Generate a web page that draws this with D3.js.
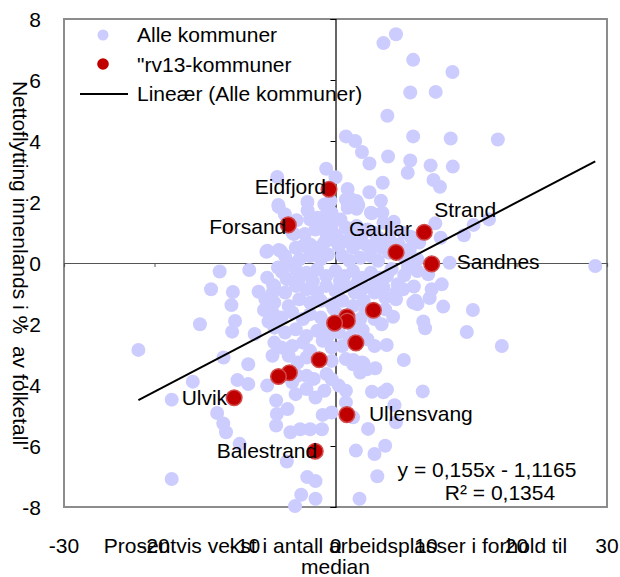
<!DOCTYPE html>
<html>
<head>
<meta charset="utf-8">
<script src="https://cdn.jsdelivr.net/npm/d3@7"></script>
<style>
  body { margin: 0; background: #fff; }
  text { font-family: "Liberation Sans", Arial, sans-serif; fill: #000; }
</style>
</head>
<body>
<svg id="chart" width="620" height="577"></svg>
<script>
// Axis ticks
const xTicks = [-30, -20, -10, 0, 10, 20, 30];
const yTicks = [-8, -6, -4, -2, 0, 2, 4, 6, 8];

// All municipalities: [job growth vs median (%), net domestic migration (% of population)]
const alleKommuner = [
  [6.68,7.50],[5.30,7.21],[8.58,6.66],[12.92,6.26],[8.26,5.59],[11.07,5.61],[5.73,4.83],[1.15,4.15],
  [2.17,4.00],[8.58,4.15],[12.73,4.08],[17.94,4.05],[2.92,3.64],[5.81,3.49],[3.75,3.26],[8.26,3.36],
  [10.51,3.20],[12.96,3.16],[7.98,2.96],[-1.03,3.09],[0,2.81],[-6.44,2.82],[10.83,2.72],[11.54,2.50],
  [5.22,2.63],[1.34,2.43],[3.75,2.32],[5.02,2.04],[1.6,2.12],[2.52,1.90],[4.0,1.63],[6.44,1.35],[8.3,0.86],
  [-6.32,1.90],[-6.28,1.84],[-3.1,2.0],[-3.08,1.72],[-1.23,1.92],[-0.55,2.03],[1.15,2.08],[2.33,2.03],
  [1.34,1.81],[2.33,1.78],[3.91,1.65],[5.18,1.65],[-0.43,1.65],[-2.02,1.48],[-1.03,1.59],[11.03,1.30],
  [15.26,1.25],[16.96,1.43],[14.19,0.91],[11.62,0.83],[-5.6,1.6],[-4.6,0.95],[-4.3,1.4],
  [-4.78,0.99],[-2.81,1.43],[-2.21,1.10],[-1.42,1.32],[-0.43,1.21],[0.55,1.43],[1.15,1.16],[2.33,1.21],
  [3.52,1.10],[4.31,0.99],[5.30,1.32],[6.48,1.10],[7.47,0.99],[8.46,0.83],[9.25,0.67],[-7.63,0.37],
  [-6.05,0.39],[-5.57,0.23],[-4.39,0.50],[-3.60,0.56],[-2.81,0.61],[-2.02,0.50],[-1.23,0.67],[-0.43,0.77],
  [0.36,0.56],[1.15,0.72],[1.94,0.50],[2.73,0.67],[3.52,0.56],[4.31,0.61],[5.10,0.50],[5.89,0.34],
  [7.47,0.23],[9.05,0.12],[12.6,0.01],[28.7,-0.10],[-5.18,0.01],[-3.99,0.12],[-2.81,0.23],[-1.62,0.12],
  [-0.83,0.28],[0.75,0.23],[1.54,0.07],[2.73,0.17],[3.91,0.23],[4.70,0.07],[-7.53,0.40],[-6.26,0.43],
  [-3.4,0.95],[-1.0,0.95],[0.1,0.9],[1.8,0.9],[2.9,0.9],[4.9,0.8],[6.0,0.75],[7.0,0.6],[8.2,0.45],
  [-12.8,-0.28],[-9.53,-0.23],[-13.75,-0.86],[-11.34,-0.95],[-8.50,-0.94],[-7.55,-0.48],[-6.36,-0.15],
  [-5.38,-0.53],[-4.39,-0.21],[-3.20,-0.32],[-2.02,-0.21],[-1.03,-0.43],[0,-0.26],[0.95,-0.43],[1.94,-0.26],
  [2.92,-0.48],[3.91,-0.32],[4.90,-0.48],[5.69,-0.43],[6.88,-0.70],[9.05,-0.26],[10.24,-0.37],[11.74,-0.70],
  [10.63,-0.86],[8.66,-0.77],[8.85,-1.24],[6.68,-0.97],[7.47,-0.86],[-6.76,-0.75],[-5.57,-0.97],[-4.39,-0.75],
  [-3.20,-0.86],[-2.02,-0.97],[-1.03,-0.75],[0,-0.92],[1.15,-0.75],[2.13,-0.97],[3.12,-0.81],[4.31,-0.97],
  [5.49,-1.13],[6.68,-1.19],[9.05,-1.35],[11.9,-1.43],[15.18,-1.54],[-11.5,-1.38],[-7.75,-1.19],[-6.76,-1.30],
  [-5.18,-1.41],[-3.99,-1.19],[-2.81,-1.30],[-1.62,-1.24],[-0.43,-1.35],[0.75,-1.24],[1.94,-1.41],[3.12,-1.24],
  [5.49,-1.52],[-6.9,-0.72],[-7.0,-1.0],[-7.9,-1.54],[8.6,-1.3],[10.4,-1.15],[-4.0,-0.5],[-2.5,-0.6],
  [0.5,-0.6],[2.4,-0.65],[4.4,-0.65],[7.6,-0.4],[6.2,-0.2],[8.0,-0.1],[5.3,-0.8],[-5.9,-0.3],
  [-14.98,-2.01],[-11.1,-1.90],[-11.42,-2.25],[-8.93,-2.33],[-7.4,-1.92],[-6.96,-1.62],[-5.97,-1.79],
  [-4.78,-1.62],[-3.60,-1.84],[-2.81,-1.68],[-1.62,-1.79],[-1.03,-2.01],[2.73,-1.84],[4.31,-1.84],
  [5.10,-2.01],[6.36,-1.76],[9.7,-1.92],[9.9,-2.14],[14.51,-2.26],[18.38,-2.72],[-21.78,-2.85],
  [-6.76,-2.12],[-5.57,-2.28],[-4.39,-2.17],[-3.20,-2.39],[-2.02,-2.22],[-0.83,-2.39],[0.36,-2.28],
  [1.54,-2.44],[3.52,-2.50],[4.31,-2.72],[5.66,-2.69],[-6.76,-2.61],[-5.97,-2.77],[-4.78,-2.72],
  [-3.60,-2.61],[-2.81,-2.88],[-1.42,-2.55],[-0.43,-2.77],[0.75,-2.72],[-12.37,-3.10],[-9.64,-3.32],
  [-6.96,-3.04],[-5.18,-3.04],[-4.19,-3.26],[-3.20,-3.10],[-0.43,-3.21],[1.15,-3.15],[1.97,-3.18],
  [2.92,-3.26],[4.4,-3.45],[7.55,-3.18],[3.1,-3.29],[0.3,-1.7],[3.3,-1.6],[-0.2,-1.5],[2.0,-2.1],[3.0,-2.2],
  [-15.77,-3.89],[-18.1,-4.48],[-10.83,-3.84],[-9.64,-3.97],[-13.08,-4.92],[-12.4,-5.26],[-12.1,-5.55],
  [-7.55,-4.02],[-6.56,-4.51],[-6.48,-4.95],[-5.30,-4.79],[-6.56,-5.33],[-4.78,-3.91],[-3.20,-3.70],
  [-3.20,-4.13],[-2.21,-4.41],[-0.99,-3.64],[-0.43,-3.81],[0.36,-4.02],[-1.23,-4.19],[1.15,-4.19],
  [1.15,-4.57],[1.94,-3.32],[2.73,-3.59],[3.52,-3.48],[4.03,-4.22],[5.30,-4.24],[5.69,-4.15],[9.64,-4.21],
  [6.52,-4.66],[6.68,-5.22],[-1.42,-4.98],[-0.43,-4.90],[1.94,-5.06],[3.60,-5.44],[-4.98,-5.55],
  [-3.9,-5.45],[-2.8,-5.45],[-1.5,-5.45],[-4.4,-4.3],[-2.4,-3.8],[-4.2,-3.7],
  [-5.38,-6.51],[2.25,-6.15],[4.31,-6.26],[5.49,-5.99],[-18.1,-7.08],[4.62,-6.99],[-3.12,-7.02],
  [-2.21,-7.15],[-3.79,-7.60],[-2.21,-7.73],[-4.47,-7.97],[2.65,-7.73],[-10.6,-5.93]
];

// Municipalities along rv13
const rv13Names = ["Eidfjord", "Forsand", "Strand", "Gaular", "Sandnes", "", "", "", "", "", "", "", "", "Ulvik", "Ullensvang", "Balestrand"];
const rv13X = [-0.72, -5.22, 9.81, 6.69, 10.63, 4.19, 1.26, 1.30, -0.10, 2.25, -1.80, -5.10, -6.30, -11.20, 1.26, -2.24];
const rv13Y = [2.42, 1.25, 1.01, 0.35, -0.03, -1.55, -1.76, -1.90, -1.97, -2.62, -3.17, -3.60, -3.72, -4.42, -4.97, -6.17];

// Linear trend for all municipalities
const trendSlope = 0.155;
const trendIntercept = -1.1165;
const rSquared = 0.1354;

const svg = d3.select("#chart");
const plot = { left: 64, right: 607, top: 19, bottom: 507 };

const x = d3.scaleLinear().domain([-30, 30]).range([plot.left, plot.right]);
const y = d3.scaleLinear().domain([-8, 8]).range([plot.bottom, plot.top]);

const FONT = 21;
const comma = v => String(v).replace(".", ",");

// Plot frame
svg.append("rect")
  .attr("x", plot.left).attr("y", plot.top)
  .attr("width", plot.right - plot.left).attr("height", plot.bottom - plot.top)
  .attr("fill", "#fff").attr("stroke", "#8c8c8c").attr("stroke-width", 2);

// Axes crossing at zero
const xAxis = d3.axisBottom(x).tickValues(xTicks).tickSize(4).tickFormat("");
svg.append("g").attr("transform", `translate(0,${y(0)})`).call(xAxis)
  .call(g => g.select(".domain").attr("stroke", "#555").attr("stroke-width", 1.2))
  .call(g => g.selectAll(".tick line").attr("stroke", "#555"));

const yAxis = d3.axisLeft(y).tickValues(yTicks).tickSize(5).tickFormat("");
svg.append("g").attr("transform", `translate(${x(0)},0)`).call(yAxis)
  .call(g => g.select(".domain").attr("stroke", "#000").attr("stroke-width", 1.2))
  .call(g => g.selectAll(".tick line").attr("stroke", "#000"));

// Tick labels along the outer edges
svg.append("g").selectAll("text").data(yTicks).join("text")
  .attr("x", 41).attr("y", d => y(d)).attr("dy", "0.36em")
  .attr("text-anchor", "end").attr("font-size", FONT)
  .text(d => String(d));

svg.append("g").selectAll("text").data(xTicks).join("text")
  .attr("x", d => x(d)).attr("y", 553)
  .attr("text-anchor", "middle").attr("font-size", FONT)
  .text(d => String(d));

// Scatter: all municipalities
svg.append("g").selectAll("circle").data(alleKommuner).join("circle")
  .attr("cx", d => x(d[0])).attr("cy", d => y(d[1])).attr("r", 7)
  .attr("fill", "#ccccff");

// Scatter: rv13 municipalities
const rv13 = rv13X.map((v, i) => ({ name: rv13Names[i], x: v, y: rv13Y[i] }));
svg.append("g").selectAll("circle").data(rv13).join("circle")
  .attr("cx", d => x(d.x)).attr("cy", d => y(d.y)).attr("r", 7.8)
  .attr("fill", "#c00000").attr("stroke", "#d24a4a").attr("stroke-width", 1.5);

// Trend line across the range of the data
const [xmin, xmax] = d3.extent(alleKommuner, d => d[0]);
svg.append("line")
  .attr("x1", x(xmin)).attr("y1", y(trendSlope * xmin + trendIntercept))
  .attr("x2", x(xmax)).attr("y2", y(trendSlope * xmax + trendIntercept))
  .attr("stroke", "#000").attr("stroke-width", 2);

// Point labels
const labelPlacement = {
  Eidfjord:   { dx: -3,  dy: 5,   anchor: "end" },
  Forsand:    { dx: -2,  dy: 9,   anchor: "end" },
  Strand:     { dx: 10,  dy: -15, anchor: "start" },
  Gaular:     { dx: 16,  dy: -16, anchor: "end" },
  Sandnes:    { dx: 25,  dy: 5,   anchor: "start" },
  Ulvik:      { dx: -7,  dy: 7,   anchor: "end" },
  Ullensvang: { dx: 22,  dy: 6,   anchor: "start" },
  Balestrand: { dx: 2,   dy: 7,   anchor: "end" }
};
svg.append("g").selectAll("text").data(rv13.filter(d => d.name)).join("text")
  .attr("x", d => x(d.x) + labelPlacement[d.name].dx)
  .attr("y", d => y(d.y) + labelPlacement[d.name].dy)
  .attr("text-anchor", d => labelPlacement[d.name].anchor)
  .attr("font-size", FONT)
  .text(d => d.name);

// Regression equation
const eq = svg.append("text").attr("font-size", FONT).attr("text-anchor", "middle");
eq.append("tspan").attr("x", 487).attr("y", 477)
  .text(`y = ${comma(trendSlope)}x - ${comma(-trendIntercept)}`);
eq.append("tspan").attr("x", 500).attr("y", 500)
  .text(`R² = ${comma(rSquared)}`);

// Legend
const legend = svg.append("g");
legend.append("circle").attr("cx", 103).attr("cy", 35).attr("r", 5.5).attr("fill", "#ccccff");
legend.append("circle").attr("cx", 103).attr("cy", 64).attr("r", 5.8).attr("fill", "#c00000");
legend.append("line").attr("x1", 80).attr("x2", 128).attr("y1", 94).attr("y2", 94)
  .attr("stroke", "#000").attr("stroke-width", 2);
const legendText = ["Alle kommuner", "\"rv13-kommuner", "Lineær (Alle kommuner)"];
legend.selectAll("text.l").data(legendText).join("text")
  .attr("class", "l").attr("x", 137).attr("y", (d, i) => 42 + i * 29.5)
  .attr("font-size", FONT).text(d => d);

// Axis titles
svg.append("text")
  .attr("transform", `translate(13,${(plot.top + plot.bottom) / 2}) rotate(90)`)
  .attr("text-anchor", "middle").attr("font-size", FONT)
  .attr("xml:space", "preserve")
  .text("Nettoflytting innenlands i %  av folketall");

const xTitle = svg.append("text").attr("text-anchor", "middle").attr("font-size", FONT);
xTitle.append("tspan").attr("x", (plot.left + plot.right) / 2).attr("y", 553)
  .text("Prosentvis vekst i antall arbeidsplasser i forhold til");
xTitle.append("tspan").attr("x", (plot.left + plot.right) / 2).attr("y", 574)
  .text("median");
</script>
</body>
</html>
